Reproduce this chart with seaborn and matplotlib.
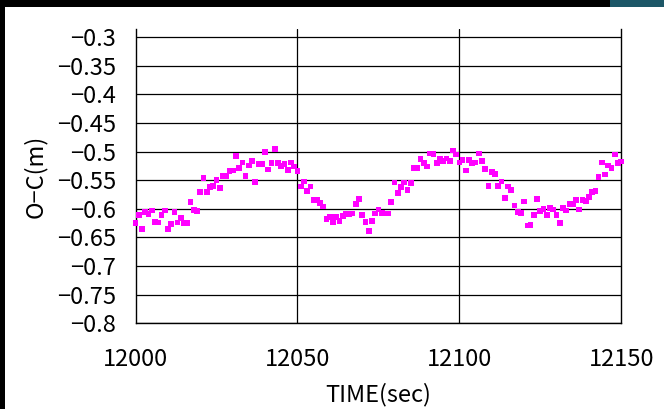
import matplotlib
matplotlib.use("Agg")
import matplotlib.pyplot as plt
from matplotlib.patches import Rectangle
from matplotlib.ticker import FixedLocator, FuncFormatter
import seaborn as sns
import pandas as pd

# Sample times (1 Hz) and observed-minus-computed residuals in metres
time_sec = list(range(12000, 12151))
o_minus_c = [
    -0.625, -0.611, -0.635, -0.605, -0.609, -0.603, -0.623, -0.624, -0.611, -0.603,
    -0.635, -0.626, -0.605, -0.624, -0.616, -0.625, -0.625, -0.588, -0.602, -0.604,
    -0.570, -0.546, -0.570, -0.562, -0.560, -0.549, -0.564, -0.542, -0.543, -0.534,
    -0.533, -0.508, -0.528, -0.519, -0.542, -0.524, -0.516, -0.553, -0.522, -0.522,
    -0.501, -0.531, -0.520, -0.495, -0.520, -0.525, -0.522, -0.532, -0.519, -0.526,
    -0.534, -0.561, -0.552, -0.569, -0.561, -0.584, -0.584, -0.590, -0.596, -0.618,
    -0.614, -0.623, -0.614, -0.621, -0.612, -0.608, -0.609, -0.608, -0.591, -0.583,
    -0.611, -0.623, -0.639, -0.621, -0.608, -0.601, -0.607, -0.608, -0.608, -0.588,
    -0.554, -0.572, -0.562, -0.554, -0.567, -0.555, -0.528, -0.528, -0.513, -0.520,
    -0.526, -0.503, -0.504, -0.520, -0.513, -0.516, -0.512, -0.516, -0.498, -0.505,
    -0.519, -0.515, -0.533, -0.515, -0.520, -0.519, -0.503, -0.516, -0.530, -0.560,
    -0.536, -0.539, -0.560, -0.552, -0.581, -0.561, -0.567, -0.594, -0.605, -0.607,
    -0.587, -0.629, -0.628, -0.611, -0.583, -0.604, -0.600, -0.611, -0.598, -0.601,
    -0.611, -0.625, -0.598, -0.603, -0.591, -0.592, -0.584, -0.601, -0.584, -0.586,
    -0.579, -0.570, -0.569, -0.544, -0.519, -0.540, -0.524, -0.529, -0.505, -0.520,
    -0.517,
]
x_ticks = [12000, 12050, 12100, 12150]
y_ticks = [-0.8, -0.75, -0.7, -0.65, -0.6, -0.55, -0.5, -0.45, -0.4, -0.35, -0.3]

df = pd.DataFrame({"TIME": time_sec, "OC": o_minus_c})

sns.set_theme(style="white")
plt.rcParams["font.family"] = ["Noto Sans CJK JP", "DejaVu Sans"]
plt.rcParams["axes.unicode_minus"] = True

fig = plt.figure(figsize=(6.64, 4.09), dpi=100)
fig.patch.set_facecolor("white")
ax = fig.add_axes([135.5 / 664, 1 - 323.3 / 409, (621.3 - 135.5) / 664, (323.3 - 29) / 409])

sns.scatterplot(data=df, x="TIME", y="OC", ax=ax, marker="s", s=17,
                color="#ff00ff", edgecolor="none", linewidth=0, zorder=3,
                clip_on=False)

ax.set_xlim(12000, 12150)
ax.set_ylim(-0.8, -0.2855)
ax.xaxis.set_major_locator(FixedLocator(x_ticks))
ax.yaxis.set_major_locator(FixedLocator(y_ticks))
ax.yaxis.set_major_formatter(FuncFormatter(lambda v, p: f"{v:g}".replace("-", "\u2212")))

# grid lines drawn explicitly so they stay inside the tick range
for yv in y_ticks:
    ax.axhline(yv, color="black", lw=0.9, zorder=1)
for xv in x_ticks[1:-1]:
    ax.axvline(xv, color="black", lw=0.9, zorder=1)

for side in ("left", "bottom", "right"):
    ax.spines[side].set_visible(True)
    ax.spines[side].set_color("black")
    ax.spines[side].set_linewidth(1.0)
ax.spines["top"].set_visible(False)

ax.tick_params(axis="both", length=0, labelsize=17, colors="black")
ax.tick_params(axis="y", pad=14)
ax.tick_params(axis="x", pad=18)
ax.set_xlabel("TIME(sec)", fontsize=17, color="black", labelpad=8)
ax.set_ylabel("O\u2212C(m)", fontsize=17, color="black", labelpad=7)

# dark screen border around the chart
fig.add_artist(Rectangle((0, 1 - 7 / 409), 1, 7 / 409, transform=fig.transFigure,
                         facecolor="black", edgecolor="none", zorder=10))
fig.add_artist(Rectangle((0, 0), 4.5 / 664, 1, transform=fig.transFigure,
                         facecolor="black", edgecolor="none", zorder=10))
fig.add_artist(Rectangle((610 / 664, 1 - 7 / 409), 54 / 664, 7 / 409,
                         transform=fig.transFigure, facecolor="#1d5767",
                         edgecolor="none", zorder=11))

fig.savefig("out.png", dpi=100, facecolor="white")
